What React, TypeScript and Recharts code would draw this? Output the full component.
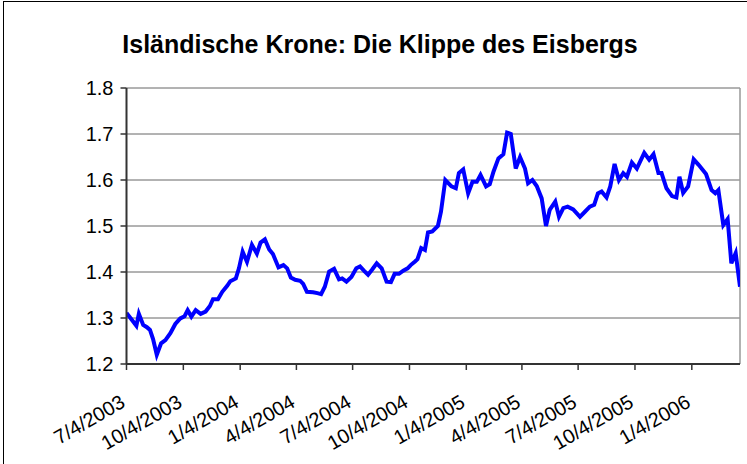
import React from 'react';
import { LineChart, Line, XAxis, YAxis, CartesianGrid, ReferenceLine } from 'recharts';

const dates = [
  '2003-07-04','2003-07-11','2003-07-20','2003-07-24','2003-07-31','2003-08-06','2003-08-11','2003-08-16','2003-08-22','2003-08-29',
  '2003-09-05','2003-09-13','2003-09-21','2003-09-29','2003-10-06','2003-10-11','2003-10-17','2003-10-24','2003-11-01','2003-11-09',
  '2003-11-16','2003-11-21','2003-11-29','2003-12-06','2003-12-14','2003-12-19','2003-12-28','2004-01-02','2004-01-08','2004-01-15',
  '2004-01-23','2004-01-31','2004-02-06','2004-02-13','2004-02-20','2004-02-26','2004-03-06','2004-03-14','2004-03-20','2004-03-26',
  '2004-04-02','2004-04-10','2004-04-15','2004-04-21','2004-05-01','2004-05-08','2004-05-14','2004-05-20','2004-05-27','2004-06-04',
  '2004-06-12','2004-06-17','2004-06-24','2004-07-02','2004-07-10','2004-07-16','2004-07-23','2004-07-29','2004-08-05','2004-08-12',
  '2004-08-20','2004-08-28','2004-09-04','2004-09-10','2004-09-17','2004-09-24','2004-10-01','2004-10-06','2004-10-13','2004-10-17',
  '2004-10-23','2004-10-29','2004-11-03','2004-11-10','2004-11-19','2004-11-24','2004-12-01','2004-12-11','2004-12-18','2004-12-23',
  '2004-12-30','2005-01-07','2005-01-14','2005-01-21','2005-01-27','2005-02-05','2005-02-11','2005-02-17','2005-02-25','2005-03-05',
  '2005-03-11','2005-03-17','2005-03-25','2005-04-01','2005-04-09','2005-04-14','2005-04-21','2005-04-28','2005-05-06','2005-05-13',
  '2005-05-19','2005-05-28','2005-06-03','2005-06-10','2005-06-17','2005-06-26','2005-07-07','2005-07-15','2005-07-23','2005-07-30',
  '2005-08-05','2005-08-11','2005-08-19','2005-08-25','2005-09-01','2005-09-08','2005-09-15','2005-09-21','2005-09-29','2005-10-07',
  '2005-10-19','2005-10-27','2005-11-03','2005-11-11','2005-11-16','2005-11-24','2005-12-03','2005-12-10','2005-12-15','2005-12-21',
  '2005-12-29','2006-01-07','2006-01-15','2006-01-27','2006-02-05','2006-02-11','2006-02-16','2006-02-24','2006-03-03','2006-03-09',
  '2006-03-16','2006-03-23',
];

const values = [
  1.311,1.299,1.283,1.309,1.285,1.280,1.274,1.254,1.220,1.245,
  1.252,1.267,1.287,1.299,1.304,1.317,1.303,1.317,1.309,1.314,
  1.326,1.341,1.341,1.357,1.370,1.380,1.386,1.408,1.444,1.422,
  1.459,1.440,1.464,1.471,1.449,1.439,1.410,1.415,1.408,1.388,
  1.383,1.381,1.374,1.357,1.356,1.354,1.352,1.368,1.401,1.407,
  1.384,1.386,1.379,1.389,1.408,1.412,1.402,1.394,1.406,1.419,
  1.408,1.379,1.378,1.396,1.396,1.403,1.408,1.415,1.423,1.428,
  1.452,1.448,1.486,1.488,1.500,1.531,1.600,1.586,1.582,1.615,
  1.623,1.571,1.596,1.596,1.611,1.586,1.591,1.618,1.647,1.656,
  1.703,1.700,1.625,1.650,1.625,1.593,1.600,1.587,1.560,1.500,
  1.535,1.553,1.520,1.539,1.542,1.536,1.520,1.531,1.542,1.546,
  1.571,1.575,1.562,1.586,1.635,1.600,1.615,1.607,1.638,1.625,
  1.659,1.644,1.656,1.615,1.615,1.582,1.565,1.562,1.607,1.572,
  1.586,1.645,1.633,1.613,1.578,1.571,1.578,1.502,1.515,1.419,
  1.441,1.368,
];

const tickLabels = ['7/4/2003','10/4/2003','1/4/2004','4/4/2004','7/4/2004','10/4/2004','1/4/2005','4/4/2005','7/4/2005','10/4/2005','1/4/2006'];
const yTicks = [1.2, 1.3, 1.4, 1.5, 1.6, 1.7, 1.8];
const title = 'Isländische Krone: Die Klippe des Eisbergs';

const isoToTime = (s: string) => {
  const [y, m, d] = s.split('-').map(Number);
  return Date.UTC(y, m - 1, d);
};
const labelToTime = (s: string) => {
  const [m, d, y] = s.split('/').map(Number);
  return Date.UTC(y, m - 1, d);
};

const data = dates.map((d, i) => ({ t: isoToTime(d), v: values[i] }));
const tickValues = tickLabels.map(labelToTime);
const tStart = data[0].t;
const tEnd = data[data.length - 1].t;

const FONT = '"Liberation Sans", Arial, Helvetica, sans-serif';

const XTick = (props: any) => {
  const { x, y, payload } = props;
  const idx = tickValues.indexOf(payload.value);
  const label = idx >= 0 ? tickLabels[idx] : '';
  const ay = y + 34;
  return (
    <text
      x={x}
      y={ay}
      textAnchor="end"
      fontSize={20}
      fontFamily={FONT}
      fill="#000"
      transform={`rotate(-30, ${x}, ${ay})`}
    >
      {label}
    </text>
  );
};

export default function App() {
  return (
    <div style={{ position: 'absolute', left: 0, top: 0, width: 747, height: 464, background: '#fff', overflow: 'hidden' }}>
      <div
        style={{
          position: 'absolute',
          left: 3,
          top: 1,
          width: 800,
          height: 600,
          borderLeft: '1px solid #000',
          borderTop: '1px solid #000',
        }}
      />
      <div
        style={{
          position: 'absolute',
          left: 0,
          top: 32,
          width: 760,
          textAlign: 'center',
          fontFamily: FONT,
          fontWeight: 'bold',
          fontSize: 25,
          lineHeight: '25px',
          color: '#000',
          whiteSpace: 'nowrap',
        }}
      >
        {title}
      </div>
      <div style={{ position: 'absolute', left: 0, top: 0 }}>
        <LineChart width={747} height={464} data={data} margin={{ top: 88, right: 7, bottom: 0, left: 0 }}>
          <CartesianGrid horizontal vertical={false} stroke="#666" strokeWidth={1} />
          <XAxis
            dataKey="t"
            type="number"
            domain={[tStart, tEnd]}
            ticks={tickValues}
            interval={0}
            height={100}
            tickSize={6}
            tickLine={{ stroke: '#333', strokeWidth: 1.5 }}
            axisLine={{ stroke: '#333', strokeWidth: 2 }}
            tick={<XTick />}
            allowDataOverflow
          />
          <YAxis
            type="number"
            domain={[1.2, 1.8]}
            ticks={yTicks}
            interval={0}
            width={126.5}
            tickSize={6}
            tickMargin={7}
            tickFormatter={(v: number) => v.toFixed(1)}
            tick={{ fontSize: 20, fontFamily: FONT, fill: '#000' }}
            tickLine={{ stroke: '#333', strokeWidth: 1.5 }}
            axisLine={{ stroke: '#333', strokeWidth: 2 }}
            allowDataOverflow
          />
          <ReferenceLine x={tEnd} stroke="#999" strokeWidth={1.5} />
          <Line
            type="linear"
            dataKey="v"
            stroke="#0000ff"
            strokeWidth={4}
            dot={false}
            isAnimationActive={false}
          />
        </LineChart>
      </div>
    </div>
  );
}
